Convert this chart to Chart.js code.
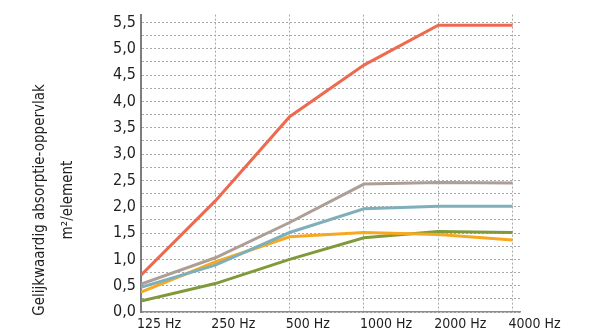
<!DOCTYPE html>
<html>
<head>
<meta charset="utf-8">
<script src="https://cdn.jsdelivr.net/npm/chart.js@4"></script>
<style>
  html, body { margin: 0; padding: 0; background: #fff; }
  #wrap { width: 592px; height: 334px; }
</style>
</head>
<body>
<div id="wrap"><canvas id="absChart" width="592" height="334"></canvas></div>
<script>
// frequency bands on the x axis
const freqLabels = ['125 Hz', '250 Hz', '500 Hz', '1000 Hz', '2000 Hz', '4000 Hz'];

// equivalent absorption area per element (m2)
const redValues = [0.70, 2.11, 3.71, 4.69, 5.45, 5.45];
const greyValues = [0.53, 1.03, 1.70, 2.43, 2.46, 2.45];
const blueValues = [0.47, 0.89, 1.51, 1.96, 2.01, 2.01];
const orangeValues = [0.38, 0.95, 1.43, 1.51, 1.47, 1.37];
const greenValues = [0.21, 0.54, 1.00, 1.41, 1.53, 1.51];

const yTitleLines = ['Gelijkwaardig absorptie-oppervlak', 'm\u00b2/element'];

const FONT = "'DejaVu Sans Condensed', 'Liberation Sans Narrow', sans-serif";

function toPoints(values) {
    return values.map((v, i) => ({ x: i, y: v }));
}

function makeSet(values, color) {
    return {
        data: toPoints(values),
        borderColor: color,
        backgroundColor: color,
        borderWidth: 3,
        pointRadius: 0,
        tension: 0,
        fill: false
    };
}

// draws the two-line rotated y title
const yTitlePlugin = {
    id: 'yTitle',
    afterDraw(chart) {
        const ctx = chart.ctx;
        ctx.save();
        ctx.translate(40, 200);
        ctx.rotate(-Math.PI / 2);
        ctx.font = '15px ' + FONT;
        ctx.fillStyle = '#1e1e1e';
        ctx.textAlign = 'center';
        ctx.textBaseline = 'middle';
        yTitleLines.forEach((line, i) => ctx.fillText(line, 0, i * 28));
        ctx.restore();
    }
};

const dotted = { color: '#a8a8a8', lineWidth: 1, drawTicks: false };

new Chart(document.getElementById('absChart').getContext('2d'), {
    type: 'line',
    data: {
        datasets: [
            makeSet(redValues, '#ee6a4e'),
            makeSet(greyValues, '#ad9e96'),
            makeSet(blueValues, '#80afbc'),
            makeSet(orangeValues, '#f6a81e'),
            makeSet(greenValues, '#7f9a3a')
        ]
    },
    options: {
        responsive: false,
        animation: false,
        layout: { padding: { left: 0, right: 72, top: 12, bottom: 0 } },
        plugins: {
            legend: { display: false },
            tooltip: { enabled: false }
        },
        scales: {
            x: {
                type: 'linear',
                min: 0,
                max: 5.1,
                afterFit: (scale) => { scale.height = 22; },
                grid: dotted,
                border: { display: true, color: '#8c8c8c', width: 1.5, dash: [2, 2] },
                ticks: {
                    stepSize: 1,
                    includeBounds: false,
                    align: 'start',
                    labelOffset: -4,
                    padding: 4,
                    maxRotation: 0,
                    autoSkip: false,
                    color: '#1e1e1e',
                    font: { family: FONT, size: 14 },
                    callback: (v) => freqLabels[Math.round(v)]
                }
            },
            y: {
                min: 0,
                max: 5.65,
                afterFit: (scale) => { scale.width = 141; },
                grid: dotted,
                border: { display: true, color: '#7d7d7d', width: 2, dash: [2, 2] },
                ticks: {
                    stepSize: 0.25,
                    includeBounds: false,
                    padding: 5,
                    autoSkip: false,
                    color: '#1e1e1e',
                    font: { family: FONT, size: 16 },
                    callback: (v) => {
                        const half = v * 2;
                        if (Math.abs(half - Math.round(half)) > 1e-6) return '';
                        return v.toFixed(1).replace('.', ',');
                    }
                }
            }
        }
    },
    plugins: [yTitlePlugin]
});
</script>
</body>
</html>
